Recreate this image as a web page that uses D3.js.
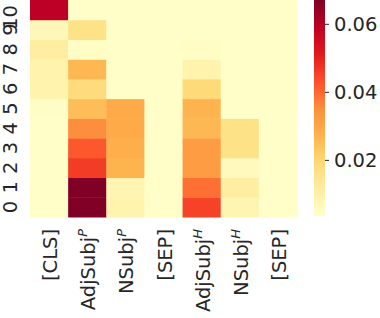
<!DOCTYPE html>
<html>
<head>
<meta charset="utf-8">
<script src="https://cdn.jsdelivr.net/npm/d3@7"></script>
<style>
  body { margin: 0; background: #fff; }
  text { font-family: "DejaVu Sans", sans-serif; fill: #262626; }
</style>
</head>
<body>
<div id="chart"></div>
<script>
// columns (tokens) and superscripts
var tokens = ["[CLS]", "AdjSubj", "NSubj", "[SEP]", "AdjSubj", "NSubj", "[SEP]"];
var supers = ["", "P", "P", "", "H", "H", ""];

// layers, 0 at the bottom
var layers = [0, 1, 2, 3, 4, 5, 6, 7, 8, 9, 10];

// attention per column, listed layer 0 .. 10
var colCLS   = [0.004, 0.004, 0.004, 0.004, 0.004, 0.0045, 0.009, 0.009, 0.011, 0.007, 0.059];
var colAdjP  = [0.067, 0.067, 0.046, 0.042, 0.035, 0.025, 0.018, 0.026, 0.005, 0.016, 0.004];
var colNP    = [0.009, 0.008, 0.027, 0.028, 0.029, 0.029, 0.004, 0.004, 0.004, 0.004, 0.004];
var colSEP1  = [0.004, 0.004, 0.004, 0.004, 0.004, 0.004, 0.004, 0.004, 0.004, 0.004, 0.004];
var colAdjH  = [0.045, 0.039, 0.032, 0.032, 0.026, 0.027, 0.019, 0.009, 0.005, 0.004, 0.004];
var colNH    = [0.008, 0.011, 0.006, 0.016, 0.016, 0.004, 0.004, 0.004, 0.004, 0.004, 0.004];
var colSEP2  = [0.004, 0.004, 0.004, 0.004, 0.004, 0.004, 0.004, 0.004, 0.004, 0.004, 0.004];
var columns = [colCLS, colAdjP, colNP, colSEP1, colAdjH, colNH, colSEP2];

var cbTicks = [0.02, 0.04, 0.06];
var vmin = 0.0035, vmax = 0.067;

var width = 380, height = 318;
var svg = d3.select("#chart").append("svg")
    .attr("width", width)
    .attr("height", height);

// heatmap area
var x = d3.scaleBand().domain(d3.range(tokens.length)).range([30, 297]);
var y = d3.scaleBand().domain(layers).range([217, 0]);

var ylorrd = ["#ffffcc", "#ffeda0", "#fed976", "#feb24c", "#fd8d3c",
              "#fc4e2a", "#e31a1c", "#bd0026", "#800026"];
var interp = d3.piecewise(d3.interpolateRgb, ylorrd);
var color = function (v) {
    var t = Math.max(0, Math.min(1, (v - vmin) / (vmax - vmin)));
    return interp(t);
};

var cells = [];
columns.forEach(function (col, i) {
    col.forEach(function (v, l) {
        cells.push({ col: i, layer: layers[l], value: v });
    });
});

svg.append("g").selectAll("rect")
    .data(cells)
    .enter()
    .append("rect")
    .attr("x", d => x(d.col))
    .attr("y", d => y(d.layer))
    .attr("width", x.bandwidth() + 0.5)
    .attr("height", y.bandwidth() + 0.5)
    .attr("fill", d => color(d.value));

// y labels (rotated)
var fs = 19.5;
svg.append("g").selectAll("text")
    .data(layers)
    .enter()
    .append("text")
    .attr("transform", function (d) {
        var cy = y(d) + y.bandwidth() / 2;
        var half = String(d).length * fs * 0.318;
        cy = Math.max(cy, half + 5);
        return `translate(10, ${cy}) rotate(-90)`;
    })
    .attr("text-anchor", "middle")
    .attr("dominant-baseline", "central")
    .style("font-size", fs + "px")
    .text(d => d);

// x labels (rotated)
var xl = svg.append("g").selectAll("text")
    .data(tokens)
    .enter()
    .append("text")
    .attr("transform", (d, i) => `translate(${x(i) + x.bandwidth() / 2 + 1}, 229) rotate(-90)`)
    .attr("text-anchor", "end")
    .attr("dominant-baseline", "central")
    .style("font-size", fs + "px");

xl.append("tspan").text(d => d);
xl.append("tspan")
    .attr("dy", "-0.45em")
    .style("font-size", "13px")
    .style("font-style", "italic")
    .text((d, i) => supers[i]);

// colorbar
var cbX = 314, cbW = 11;
var cbScale = d3.scaleLinear().domain([vmin, vmax]).range([216, 0]);

var defs = svg.append("defs");
var grad = defs.append("linearGradient")
    .attr("id", "cbgrad")
    .attr("x1", 0).attr("y1", 1)
    .attr("x2", 0).attr("y2", 0);
ylorrd.forEach(function (c, i) {
    grad.append("stop")
        .attr("offset", i / (ylorrd.length - 1))
        .attr("stop-color", c);
});

svg.append("rect")
    .attr("x", cbX)
    .attr("y", cbScale(vmax))
    .attr("width", cbW)
    .attr("height", cbScale(vmin) - cbScale(vmax))
    .attr("fill", "url(#cbgrad)");

var cbAxis = d3.axisRight(cbScale)
    .tickValues(cbTicks)
    .tickSize(4)
    .tickPadding(5)
    .tickFormat(d3.format(".2f"));

var cbG = svg.append("g")
    .attr("transform", `translate(${cbX + cbW}, 0)`)
    .call(cbAxis);
cbG.select(".domain").remove();
cbG.selectAll(".tick line").attr("stroke", "#262626");
cbG.selectAll(".tick text")
    .style("font-size", fs + "px")
    .style("font-family", "DejaVu Sans, sans-serif")
    .attr("fill", "#262626");
</script>
</body>
</html>
